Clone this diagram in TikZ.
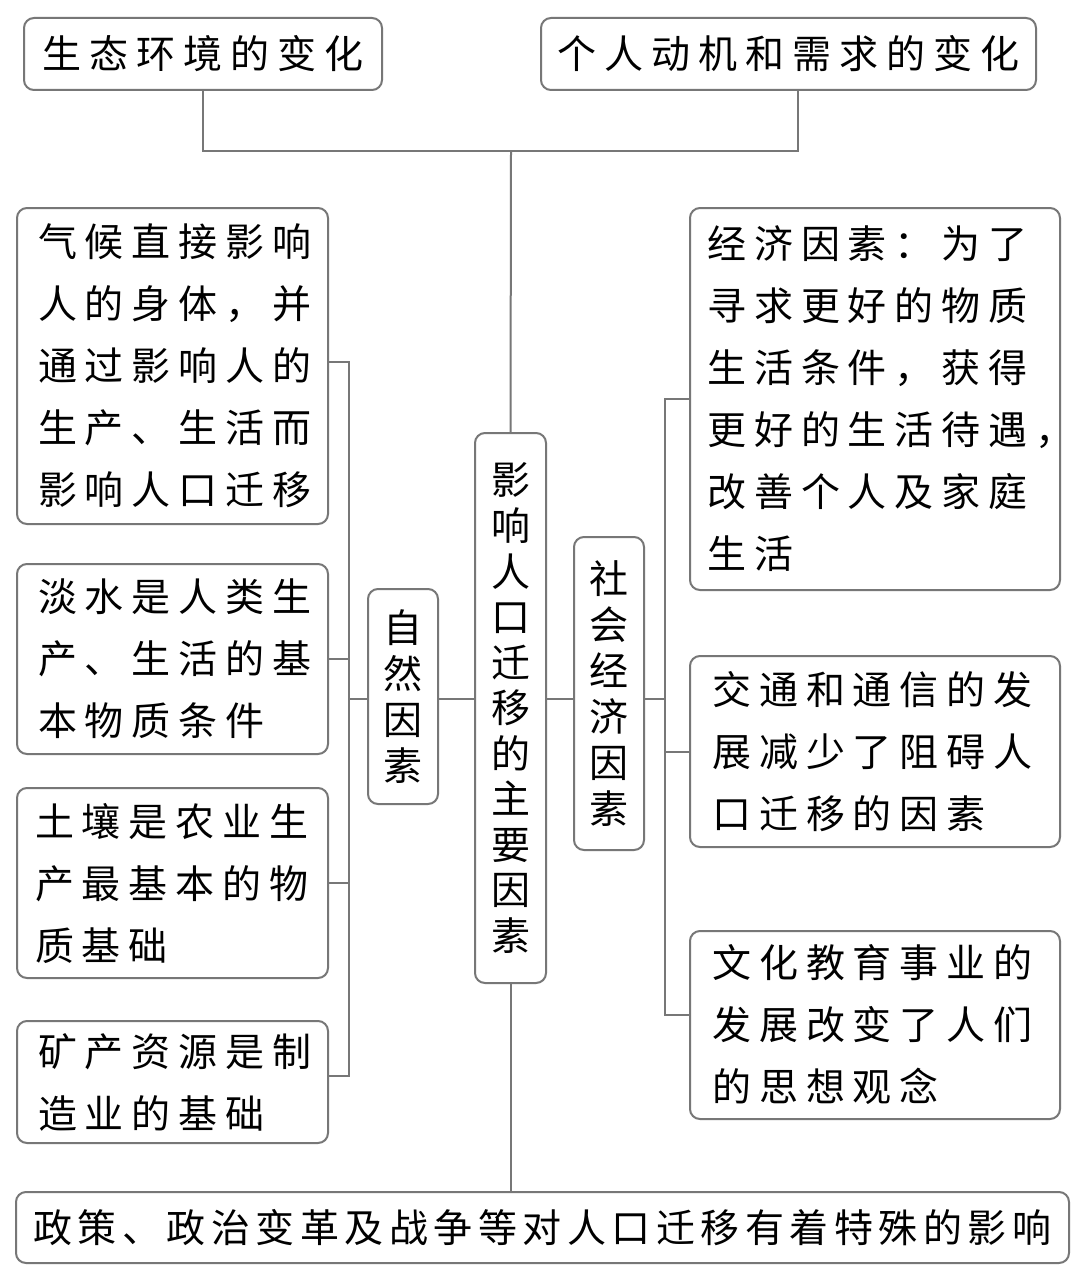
\documentclass[tikz,border=0pt]{standalone}
\usepackage{fontspec}
\newfontfamily\cjk{Noto Sans CJK SC}
\definecolor{lg}{HTML}{777777}
\def\spcgap{8pt}
\let\spcend\relax
\def\spcloop#1#2{#1\ifx#2\spcend\else\kern\spcgap\relax\expandafter\spcloop\fi#2}
\newcommand\spt[1]{\mbox{\spcloop#1\spcend}}
\tikzset{
  box/.style={draw=lg, line width=2pt, rounded corners=10pt, fill=white, inner ysep=0pt, anchor=north west},
  txt/.style={font=\cjk\fontsize{39pt}{62pt}\selectfont},
  gap/.code={\def\spcgap{#1}},
  vtxt/.style={font=\cjk\fontsize{39pt}{#1}\selectfont, align=center, inner xsep=0pt},
  conn/.style={draw=lg, line width=2pt},
}
\begin{document}
\begin{tikzpicture}[x=1pt,y=-1pt]
\useasboundingbox[fill=white] (0,0) rectangle (1080,1279);
% top boxes
\node[box, txt, minimum width=358pt, minimum height=72pt, inner xsep=0pt] (A) at (23,17) {\spt{生态环境的变化}};
\node[box, txt, minimum width=495pt, minimum height=72pt, inner xsep=0pt] (B) at (540,17) {\spt{个人动机和需求的变化}};
% central
\node[box, vtxt=45.5pt, minimum width=71pt, minimum height=550pt] (C) at (474,432) {影\\响\\人\\口\\迁\\移\\的\\主\\要\\因\\素};
\node[box, vtxt=46pt, minimum width=70pt, minimum height=215pt] (N) at (367,588) {自\\然\\因\\素};
\node[box, vtxt=46pt, minimum width=70pt, minimum height=313pt] (S) at (573,536) {社\\会\\经\\济\\因\\素};
% left boxes
\node[box, txt, minimum width=311pt, minimum height=316pt, text width=269pt, inner xsep=21pt, align=left] (L1) at (16,207)
  {\spt{气候直接影响}\\\spt{人的身体，并}\\\spt{通过影响人的}\\\spt{生产、生活而}\\\spt{影响人口迁移}};
\node[box, txt, minimum width=311pt, minimum height=190pt, text width=269pt, inner xsep=21pt, align=left] (L2) at (16,563)
  {\spt{淡水是人类生}\\\spt{产、生活的基}\\\spt{本物质条件}};
\node[box, txt, minimum width=311pt, minimum height=190pt, text width=275pt, inner xsep=18pt, align=left] (L3) at (16,787)
  {\spt{土壤是农业生}\\\spt{产最基本的物}\\\spt{质基础}};
\node[box, txt, minimum width=311pt, minimum height=122pt, text width=269pt, inner xsep=21pt, align=left] (L4) at (16,1020)
  {\spt{矿产资源是制}\\\spt{造业的基础}};
% right boxes
\node[box, txt, minimum width=370pt, minimum height=382pt, text width=336pt, inner xsep=17pt, align=left] (R1) at (689,207)
  {\spt{经济因素：为了}\\\spt{寻求更好的物质}\\\spt{生活条件，获得}\\\spt{更好的生活待遇，}\\\spt{改善个人及家庭}\\\spt{生活}};
\node[box, txt, minimum width=370pt, minimum height=191pt, text width=326pt, inner xsep=22pt, align=left] (R2) at (689,655)
  {\spt{交通和通信的发}\\\spt{展减少了阻碍人}\\\spt{口迁移的因素}};
\node[box, txt, minimum width=370pt, minimum height=188pt, text width=326pt, inner xsep=22pt, align=left] (R3) at (689,930)
  {\spt{文化教育事业的}\\\spt{发展改变了人们}\\\spt{的思想观念}};
% bottom
\node[box, txt, gap=5.5pt, minimum width=1053pt, minimum height=71pt, inner xsep=0pt] (P) at (15,1191)
  {\spt{政策、政治变革及战争等对人口迁移有着特殊的影响}};
% coordinates
\coordinate (jt) at (511,151);
\coordinate (bt) at (798,151);
\coordinate (my) at (0,699);
\coordinate (ls) at (349,699);
\coordinate (rs) at (665,699);
\coordinate (l1y) at (0,362);
\coordinate (l4y) at (0,1076);
\coordinate (r3y) at (0,1015);
% connectors
\draw[conn] (A.south) |- (jt) -- (bt) -- (bt |- B.south);
\draw[conn] (jt) -- (C.north);
\draw[conn] (C.south) -- (C.south |- P.north);
\draw[conn] (C.west |- my) -- (N.east |- my);
\draw[conn] (N.west |- my) -- (ls);
\draw[conn] (C.east |- my) -- (S.west |- my);
\draw[conn] (S.east |- my) -- (rs);
\draw[conn] (L1.east |- l1y) -- (ls |- l1y) -- (ls |- l4y) -- (L4.east |- l4y);
\draw[conn] (L2.east) -- (L2.east -| ls);
\draw[conn] (L3.east) -- (L3.east -| ls);
\draw[conn] (R1.west) -- (R1.west -| rs) -- (rs |- r3y) -- (R3.west |- r3y);
\draw[conn] (R2.west) -- (R2.west -| rs);
\end{tikzpicture}
\end{document}
